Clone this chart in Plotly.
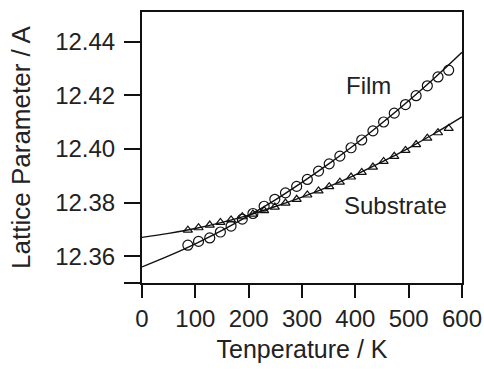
import plotly.graph_objects as go

temp_pts = [86, 106, 127, 147, 167, 188, 208, 229, 249, 269, 290, 310, 331,
            351, 371, 392, 412, 433, 453, 473, 494, 514, 535, 555, 575]
film_pts = [12.3641, 12.3655, 12.3668, 12.3690, 12.3712, 12.3738, 12.3759, 12.3786,
            12.3812, 12.3836, 12.3860, 12.3886, 12.3917, 12.3944, 12.3973, 12.4004,
            12.4033, 12.4067, 12.4100, 12.4133, 12.4165, 12.4198, 12.4235, 12.4268, 12.4293]
sub_pts = [12.3697, 12.3706, 12.3716, 12.3726, 12.3735, 12.3747, 12.3757, 12.3770,
           12.3783, 12.3798, 12.3812, 12.3828, 12.3843, 12.3859, 12.3876, 12.3895,
           12.3912, 12.3932, 12.3953, 12.3972, 12.3994, 12.4016, 12.4040, 12.4060, 12.4076]

# Fitted curves (read at 50 K steps)
temp_fit = [0, 50, 100, 150, 200, 250, 300, 350, 400, 450, 500, 550, 600]
film_fit = [12.3560, 12.3601, 12.3646, 12.3696, 12.3751, 12.3810, 12.3875,
            12.3944, 12.4017, 12.4096, 12.4179, 12.4267, 12.4360]
sub_fit = [12.3670, 12.3685, 12.3703, 12.3726, 12.3753, 12.3785, 12.3820,
           12.3859, 12.3903, 12.3951, 12.4003, 12.4059, 12.4119]

x_ticks = [0, 100, 200, 300, 400, 500, 600]
y_ticks = [12.35, 12.36, 12.38, 12.40, 12.42, 12.44]
y_labels = ["", "12.36", "12.38", "12.40", "12.42", "12.44"]

FONT = "Liberation Sans, Arial, sans-serif"
TXT = "#222222"

fig = go.Figure()
fig.add_trace(go.Scatter(x=temp_fit, y=film_fit, mode="lines", line_shape="spline",
                         line=dict(color="#111111", width=1.4), showlegend=False))
fig.add_trace(go.Scatter(x=temp_fit, y=sub_fit, mode="lines", line_shape="spline",
                         line=dict(color="#111111", width=1.4), showlegend=False))
fig.add_trace(go.Scatter(x=temp_pts, y=film_pts, mode="markers",
                         marker=dict(symbol="circle-open", size=10, color="#111111",
                                     line=dict(width=1.2)), showlegend=False))
fig.add_trace(go.Scatter(x=temp_pts, y=sub_pts, mode="markers",
                         marker=dict(symbol="triangle-up-open", size=8, color="#111111",
                                     line=dict(width=1.2)), showlegend=False))

fig.add_annotation(x=424, y=12.4237, text="Film", showarrow=False,
                   font=dict(family=FONT, size=24, color=TXT))
fig.add_annotation(x=476, y=12.3790, text="Substrate", showarrow=False,
                   font=dict(family=FONT, size=24, color=TXT))

fig.update_xaxes(range=[0, 600], tickvals=x_ticks, ticks="outside", ticklen=13,
                 tickwidth=2, tickcolor="#111", showline=True, linecolor="#111",
                 linewidth=2, mirror=True, showgrid=False, zeroline=False,
                 automargin=False,
                 tickfont=dict(family=FONT, size=24, color=TXT),
                 title=dict(text="Tenperature / K", standoff=10,
                            font=dict(family=FONT, size=25, color=TXT)))
fig.update_yaxes(range=[12.35, 12.451], tickvals=y_ticks, ticktext=y_labels,
                 ticks="outside", ticklen=16, tickwidth=2, tickcolor="#111",
                 showline=True, linecolor="#111", linewidth=2, mirror=True,
                 showgrid=False, zeroline=False, ticklabelstandoff=4,
                 automargin=False,
                 tickfont=dict(family=FONT, size=24, color=TXT),
                 title=dict(text="Lattice Parameter / A", standoff=17,
                            font=dict(family=FONT, size=26, color=TXT)))

fig.update_layout(width=484, height=372, autosize=False,
                  margin=dict(l=142, r=22, t=12, b=89),
                  plot_bgcolor="white", paper_bgcolor="white")

# remove the default page margin so the figure fills the window exactly
post = ("document.body.style.margin='0';document.body.style.overflow='hidden';"
        "var gd=document.getElementById('{plot_id}');"
        "Plotly.relayout(gd,{width:484,height:372});")
fig.write_html("out.html", post_script=post,
               config={"displayModeBar": False, "responsive": False, "staticPlot": True})
